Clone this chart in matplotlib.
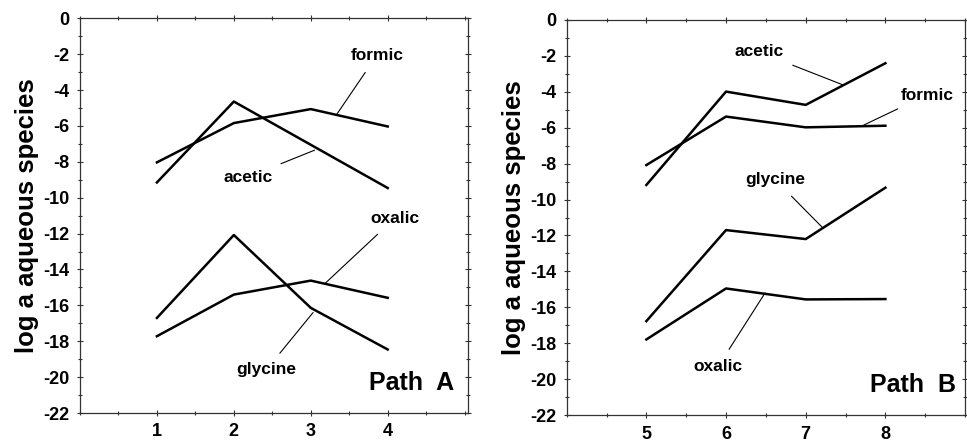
import matplotlib.pyplot as plt
from matplotlib.ticker import MultipleLocator

plt.rcParams["font.family"] = ["Liberation Sans", "DejaVu Sans"]
plt.rcParams["font.weight"] = "bold"
plt.rcParams["axes.unicode_minus"] = False

# path A, steps 1-4
steps_a = [1, 2, 3, 4]
formic_a = [-8.03, -5.84, -5.06, -6.03]
acetic_a = [-9.15, -4.64, -7.05, -9.46]
glycine_a = [-16.7, -12.08, -16.14, -18.46]
oxalic_a = [-17.72, -15.4, -14.62, -15.58]

# path B, steps 5-8
steps_b = [5, 6, 7, 8]
acetic_b = [-9.19, -3.99, -4.73, -2.41]
formic_b = [-8.08, -5.38, -5.98, -5.89]
glycine_b = [-16.77, -11.7, -12.2, -9.34]
oxalic_b = [-17.79, -14.95, -15.56, -15.54]

fig = plt.figure(figsize=(9.67, 4.43), dpi=100)
ax1 = fig.add_axes([0.0827, 0.0677, 0.401, 0.891])
ax2 = fig.add_axes([0.586, 0.063, 0.412, 0.892])


def style_axes(ax, xlim, xticks):
    ax.set_xlim(*xlim)
    ax.set_ylim(-22, 0)
    ax.set_xticks(xticks)
    ax.set_yticks(range(-22, 1, 2))
    ax.xaxis.set_minor_locator(MultipleLocator(0.5))
    ax.yaxis.set_minor_locator(MultipleLocator(1))
    ax.tick_params(which="both", direction="inout", top=True, right=True,
                   width=0.8, color="#333333")
    ax.tick_params(which="major", length=5, labelsize=13, pad=5)
    ax.tick_params(which="minor", length=3)
    for lab in ax.get_xticklabels() + ax.get_yticklabels():
        lab.set_fontweight("bold")
    for sp in ax.spines.values():
        sp.set_linewidth(0.9)
        sp.set_color("#333333")
    ax.set_ylabel("log a aqueous species", fontsize=18.5, fontweight="bold",
                  labelpad=3)


def label(ax, text, xy, xytext):
    ax.annotate(text, xy=xy, xytext=xytext, fontsize=12.5, fontweight="bold",
                ha="center", va="center",
                arrowprops=dict(arrowstyle="-", lw=0.8, color="black",
                                shrinkA=6, shrinkB=0))


lw = 1.8
for ys in (formic_a, acetic_a, glycine_a, oxalic_a):
    ax1.plot(steps_a, ys, color="black", lw=lw)
for ys in (acetic_b, formic_b, glycine_b, oxalic_b):
    ax2.plot(steps_b, ys, color="black", lw=lw)

style_axes(ax1, (0, 5.04), steps_a)
style_axes(ax2, (4, 9), steps_b)

label(ax1, "formic", (3.33, -5.4), (3.86, -2.06))
label(ax1, "acetic", (3.05, -7.35), (2.18, -8.85))
label(ax1, "oxalic", (3.18, -14.8), (4.09, -11.15))
label(ax1, "glycine", (3.03, -16.4), (2.42, -19.6))
ax1.text(4.31, -20.35, "Path  A", fontsize=18, fontweight="bold",
         ha="center", va="center")

label(ax2, "acetic", (7.47, -3.62), (6.41, -1.78))
label(ax2, "formic", (7.73, -5.85), (8.52, -4.18))
label(ax2, "glycine", (7.22, -11.6), (6.62, -8.91))
label(ax2, "oxalic", (6.49, -15.2), (5.90, -19.3))
ax2.text(8.35, -20.3, "Path  B", fontsize=18, fontweight="bold",
         ha="center", va="center")

fig.savefig("out.png", dpi=100)
